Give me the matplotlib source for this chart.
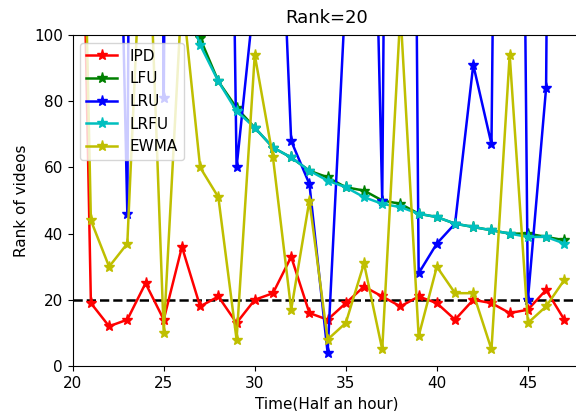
import matplotlib
matplotlib.use("Agg")
import matplotlib.pyplot as plt

title = "Rank=20"
xlabel = "Time(Half an hour)"
ylabel = "Rank of videos"
threshold = 20

x_ipd = list(range(20, 48))
ipd = [300, 19, 12, 14, 25, 14, 36, 18, 21, 13, 20, 22, 33, 16, 14, 19, 24, 21, 18, 21, 19, 14, 20, 19, 16, 17, 23, 14]

x_lfu = list(range(26, 48))
lfu = [110, 99, 86, 78, 72, 66, 63, 59, 57, 54, 53, 50, 49, 46, 45, 43, 42, 41, 40, 40, 39, 38]

x_lru = list(range(21, 48))
lru = [400, 300, 46, 1000, 81, 800, 800, 460, 60, 113, 200, 68, 55, 4, 114, 290, 50, 750, 28, 37, 43, 91, 67, 600, 20, 84, 800]

x_lrfu = list(range(26, 48))
lrfu = [113, 97, 86, 77, 72, 66, 63, 59, 56, 54, 51, 49, 48, 46, 45, 43, 42, 41, 40, 39, 39, 37]

x_ewma = list(range(20, 48))
ewma = [300, 44, 30, 37, 160, 10, 113, 60, 51, 8, 94, 63, 17, 50, 8, 13, 31, 5, 107, 9, 30, 22, 22, 5, 94, 13, 18, 26]

fig = plt.figure(figsize=(5.76, 4.11), dpi=100)
ax = fig.add_axes([0.1262, 0.1095, 0.881, 0.8053])

ax.axhline(threshold, color="k", linestyle="--", linewidth=1.8)
kw = dict(marker="*", markersize=8, linewidth=1.8)
ax.plot(x_ipd, ipd, color="r", label="IPD", **kw)
ax.plot(x_lfu, lfu, color="g", label="LFU", **kw)
ax.plot(x_lru, lru, color="b", label="LRU", **kw)
ax.plot(x_lrfu, lrfu, color="c", label="LRFU", **kw)
ax.plot(x_ewma, ewma, color="y", label="EWMA", **kw)

ax.set_xlim(20, 47.87)
ax.set_ylim(0, 100)
ax.set_xticks([20, 25, 30, 35, 40, 45])
ax.set_yticks([0, 20, 40, 60, 80, 100])
ax.tick_params(labelsize=11)
ax.set_title(title, fontsize=13, pad=9)
ax.set_xlabel(xlabel, fontsize=11)
ax.set_ylabel(ylabel, fontsize=11)
ax.legend(loc="upper left", fontsize=11)

fig.savefig("out.png", dpi=100)
